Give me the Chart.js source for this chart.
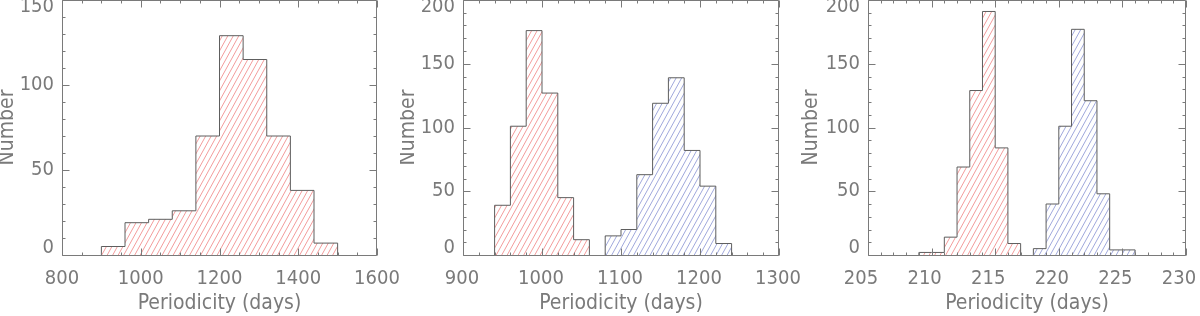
<!DOCTYPE html>
<html>
<head>
<meta charset="utf-8">
<script src="https://cdn.jsdelivr.net/npm/chart.js@4.4.1/dist/chart.umd.min.js"></script>
<style>
  html, body { margin: 0; padding: 0; background: #ffffff; }
  #wrap { position: relative; width: 1200px; height: 316px; overflow: hidden; }
  .panel { position: absolute; top: 0; width: 400px; height: 316px; }
</style>
</head>
<body>
<div id="wrap">
  <div class="panel" style="left:0px"><canvas id="c1" width="400" height="316"></canvas></div>
  <div class="panel" style="left:400px"><canvas id="c2" width="400" height="316"></canvas></div>
  <div class="panel" style="left:800px"><canvas id="c3" width="400" height="316"></canvas></div>
</div>
<script>
// ---------------- data ----------------
const p1XTicks = [800, 1000, 1200, 1400, 1600];
const p1YTicks = [0, 50, 100, 150];
const p1RedEdges = [900, 960, 1020, 1080, 1140, 1200, 1260, 1320, 1380, 1440, 1500];
const p1RedCounts = [5, 19, 21, 26, 70, 129, 115, 70, 38, 7];

const p2XTicks = [900, 1000, 1100, 1200, 1300];
const p2YTicks = [0, 50, 100, 150, 200];
const p2RedEdges = [940, 960, 980, 1000, 1020, 1040, 1060];
const p2RedCounts = [39, 101, 176, 127, 45, 12];
const p2BlueEdges = [1080, 1100, 1120, 1140, 1160, 1180, 1200, 1220, 1240];
const p2BlueCounts = [15, 20, 63, 119, 139, 82, 54, 9];

const p3XTicks = [205, 210, 215, 220, 225, 230];
const p3YTicks = [0, 50, 100, 150, 200];
const p3RedEdges = [209, 210, 211, 212, 213, 214, 215, 216, 217];
const p3RedCounts = [2, 2, 14, 69, 129, 191, 84, 9];
const p3BlueEdges = [218, 219, 220, 221, 222, 223, 224, 225, 226];
const p3BlueCounts = [5, 40, 101, 177, 121, 48, 4, 4];

const xTitle = 'Periodicity (days)';
const yTitle = 'Number';

// ---------------- styles ----------------
const FONT = "'DejaVu Sans Condensed', 'DejaVu Sans', sans-serif";
const TEXT_COLOR = '#7a7a7a';
const AXIS_COLOR = '#7a7a7a';
const OUTLINE_COLOR = '#5e5e5e';
const RED_HATCH = '#f39c9c';
const BLUE_HATCH = '#a0a8dc';

function hatch(color) {
  const w = 11, h = 20;
  const c = document.createElement('canvas');
  c.width = w; c.height = h;
  const g = c.getContext('2d');
  g.strokeStyle = color;
  g.lineWidth = 1;
  g.beginPath();
  for (let k = -3; k <= 3; k++) {
    const x0 = k * (w / 2);
    g.moveTo(x0, h);
    g.lineTo(x0 + w, 0);
  }
  g.stroke();
  return g.createPattern(c, 'repeat');
}

function histPoints(edges, counts) {
  const pts = [{x: edges[0], y: 0}];
  for (let i = 0; i < counts.length; i++) pts.push({x: edges[i], y: counts[i]});
  pts.push({x: edges[edges.length - 1], y: 0});
  return pts;
}

function histDataset(edges, counts, color) {
  return {
    data: histPoints(edges, counts),
    stepped: 'before',
    borderColor: OUTLINE_COLOR,
    borderWidth: 1,
    pointRadius: 0,
    fill: 'origin',
    backgroundColor: hatch(color),
    tension: 0
  };
}

const frameTicks = {
  id: 'frameTicks',
  afterDatasetsDraw(chart, args, opts) {
    const {ctx, chartArea: a, scales: {x, y}} = chart;
    const L = Math.round(a.left) + 0.5, R = Math.round(a.right) - 0.5;
    const T = Math.round(a.top) + 0.5, B = Math.round(a.bottom) + 0.5;
    ctx.save();
    ctx.strokeStyle = AXIS_COLOR;
    ctx.lineWidth = 1;
    ctx.beginPath();
    ctx.rect(L, T, R - L, B - T);
    const isMajor = (v, min, step) => Math.abs((v - min) / step - Math.round((v - min) / step)) < 1e-6;
    const nx = Math.round((x.max - x.min) / opts.xMinor);
    for (let i = 0; i <= nx; i++) {
      const v = x.min + i * opts.xMinor;
      const len = isMajor(v, x.min, opts.xMajor) ? 7 : 3;
      const px = Math.round(x.getPixelForValue(v)) + 0.5;
      ctx.moveTo(px, B); ctx.lineTo(px, B - len);
      ctx.moveTo(px, T); ctx.lineTo(px, T + len);
    }
    const ny = Math.round((y.max - y.min) / opts.yMinor);
    for (let i = 0; i <= ny; i++) {
      const v = y.min + i * opts.yMinor;
      const len = isMajor(v, y.min, opts.yMajor) ? 7 : 3;
      const py = Math.round(y.getPixelForValue(v)) + 0.5;
      ctx.moveTo(L, py); ctx.lineTo(L + len, py);
      ctx.moveTo(R, py); ctx.lineTo(R - len, py);
    }
    ctx.stroke();
    ctx.restore();
  }
};

function makeChart(id, datasets, xTicks, yTicks, xMinor, yMinor, yAxisWidth, yTitleOffset, padRight, xLabelOffset) {
  const xMin = xTicks[0], xMax = xTicks[xTicks.length - 1];
  const yMin = yTicks[0], yMax = yTicks[yTicks.length - 1];
  return new Chart(document.getElementById(id), {
    type: 'line',
    data: { datasets },
    plugins: [frameTicks],
    options: {
      responsive: false,
      animation: false,
      devicePixelRatio: 1,
      layout: { padding: { left: 0, right: padRight, top: 0, bottom: 0 } },
      plugins: {
        legend: { display: false },
        tooltip: { enabled: false },
        frameTicks: { xMinor, xMajor: xTicks[1] - xTicks[0], yMinor, yMajor: yTicks[1] - yTicks[0] }
      },
      scales: {
        x: {
          type: 'linear',
          min: xMin, max: xMax,
          border: { display: false },
          grid: { display: false, drawTicks: false },
          afterBuildTicks: (s) => { s.ticks = xTicks.map(v => ({value: v})); },
          ticks: {
            autoSkip: false, maxRotation: 0, padding: 12,
            labelOffset: xLabelOffset,
            color: TEXT_COLOR,
            font: { family: FONT, size: 20 },
            callback: (v) => String(v)
          },
          title: {
            display: true, text: xTitle, color: TEXT_COLOR,
            font: { family: FONT, size: 21 },
            padding: { top: 0, bottom: 0 }
          },
          afterFit: (s) => { s.height = 61; s.paddingLeft = 0; s.paddingRight = 0; }
        },
        y: {
          type: 'linear',
          min: yMin, max: yMax,
          border: { display: false },
          grid: { display: false, drawTicks: false },
          afterBuildTicks: (s) => { s.ticks = yTicks.map(v => ({value: v})); },
          ticks: {
            autoSkip: false, padding: 8,
            color: TEXT_COLOR,
            font: { family: FONT, size: 20, lineHeight: 0.7 },
            callback: (v) => v === yMax ? ['', String(v)] : (v === yMin ? [String(v), ''] : String(v))
          },
          title: {
            display: true, text: yTitle, color: TEXT_COLOR,
            font: { family: FONT, size: 21, lineHeight: yTitleOffset * 2 / 21 },
            padding: 0
          },
          afterFit: (s) => { s.width = yAxisWidth; s.paddingTop = 0; s.paddingBottom = 0; }
        }
      }
    }
  });
}

makeChart('c1', [histDataset(p1RedEdges, p1RedCounts, RED_HATCH)],
  p1XTicks, p1YTicks, 50, 10, 62, 8, 23, 0);
makeChart('c2', [histDataset(p2RedEdges, p2RedCounts, RED_HATCH), histDataset(p2BlueEdges, p2BlueCounts, BLUE_HATCH)],
  p2XTicks, p2YTicks, 20, 10, 63, 9, 21, -1);
makeChart('c3', [histDataset(p3RedEdges, p3RedCounts, RED_HATCH), histDataset(p3BlueEdges, p3BlueCounts, BLUE_HATCH)],
  p3XTicks, p3YTicks, 1, 10, 68, 12, 14, -7);
</script>
</body>
</html>
